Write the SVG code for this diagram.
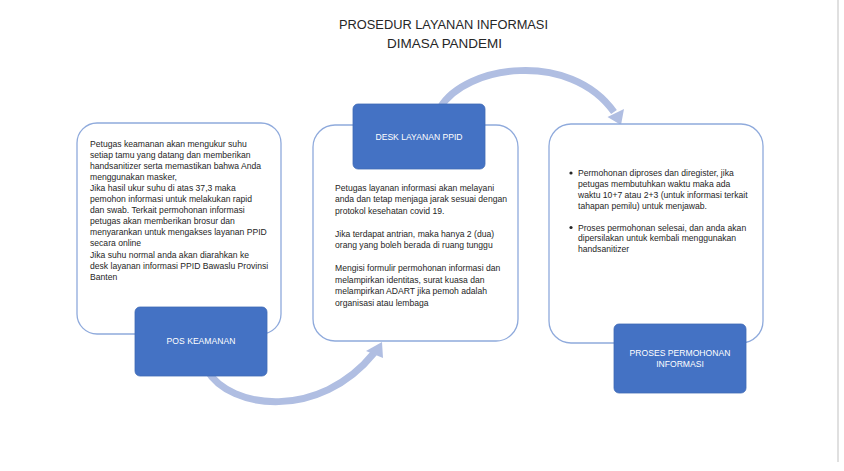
<svg xmlns="http://www.w3.org/2000/svg" width="844" height="471" viewBox="0 0 844 471">
<style>
.card{fill:#ffffff;stroke:#8FAADC;stroke-width:1.3}
.blue{fill:#4472C4;stroke:#3F69B5;stroke-width:0.8}
.body{font-family:"Liberation Sans",Arial,sans-serif;font-size:8.6px;fill:#262626}
.lbl{font-family:"Liberation Sans",Arial,sans-serif;font-size:8.6px;fill:#ffffff;text-anchor:middle}
.title{font-family:"Liberation Sans",Arial,sans-serif;font-size:13.4px;fill:#262626;text-anchor:middle}
.band{fill:none;stroke:#B0BEE2;stroke-width:7}
.head{fill:#B0BEE2}
</style>
<rect width="844" height="471" fill="#ffffff"/>
<line x1="838" y1="0" x2="838" y2="462" stroke="#D6D6D6" stroke-width="1.5"/>
<g id="title">
<text class="title" x="443.5" y="29" textLength="209" lengthAdjust="spacingAndGlyphs">PROSEDUR LAYANAN INFORMASI</text>
<text class="title" x="444.5" y="47.5" textLength="115" lengthAdjust="spacingAndGlyphs">DIMASA PANDEMI</text>
</g>
<g id="connectors">
<path class="band" d="M 440 108 C 465 65, 570 50, 614 112"/>
<polygon class="head" points="621,125 607.5,117 624,109"/>
<path class="band" d="M 207 370 C 230 410, 320 420, 374 353"/>
<polygon class="head" points="382,342 366,351 383,358"/>
</g>
<g id="pos-keamanan">
<rect class="card" x="77" y="123" width="204" height="211" rx="20"/>
<text class="body" x="90">
<tspan x="90" y="146.5">Petugas keamanan akan mengukur suhu</tspan>
<tspan x="90" y="157.6">setiap tamu yang datang dan memberikan</tspan>
<tspan x="90" y="168.7">handsanitizer serta memastikan bahwa Anda</tspan>
<tspan x="90" y="179.8">menggunakan masker,</tspan>
<tspan x="90" y="190.9">Jika hasil ukur suhu di atas 37,3 maka</tspan>
<tspan x="90" y="202">pemohon informasi untuk melakukan rapid</tspan>
<tspan x="90" y="213.1">dan swab. Terkait  permohonan informasi</tspan>
<tspan x="90" y="224.2">petugas akan memberikan brosur dan</tspan>
<tspan x="90" y="235.3">menyarankan untuk mengakses layanan PPID</tspan>
<tspan x="90" y="246.4">secara online</tspan>
<tspan x="90" y="257.5"> Jika suhu normal anda akan diarahkan ke</tspan>
<tspan x="90" y="268.6">desk layanan informasi PPID Bawaslu Provinsi</tspan>
<tspan x="90" y="279.7">Banten</tspan>
</text>
<rect class="blue" x="135" y="307" width="132" height="69" rx="5"/>
<text class="lbl" x="201" y="344">POS KEAMANAN</text>
</g>
<g id="desk-layanan-ppid">
<rect class="card" x="313" y="125" width="205" height="216" rx="22"/>
<rect class="blue" x="353" y="104" width="132" height="65" rx="5"/>
<text class="lbl" x="419" y="140">DESK LAYANAN PPID</text>
<text class="body">
<tspan x="335" y="190.5">Petugas layanan informasi akan melayani</tspan>
<tspan x="335" y="202">anda dan tetap menjaga jarak sesuai dengan</tspan>
<tspan x="335" y="213.5">protokol kesehatan covid 19.</tspan>
<tspan x="335" y="236.5">Jika terdapat antrian, maka hanya 2 (dua)</tspan>
<tspan x="335" y="248">orang yang boleh berada di ruang tunggu</tspan>
<tspan x="335" y="271">Mengisi formulir permohonan informasi dan</tspan>
<tspan x="335" y="282.5">melampirkan identitas, surat kuasa dan</tspan>
<tspan x="335" y="294">melampirkan ADART jika pemoh adalah</tspan>
<tspan x="335" y="305.5">organisasi atau lembaga</tspan>
</text>
</g>
<g id="proses-permohonan">
<rect class="card" x="549" y="124" width="214" height="219" rx="22"/>
<circle cx="571" cy="173" r="1.6" fill="#262626"/>
<circle cx="571" cy="227.5" r="1.6" fill="#262626"/>
<text class="body">
<tspan x="578" y="176">Permohonan diproses dan diregister, jika</tspan>
<tspan x="578" y="186.9">petugas membutuhkan waktu maka ada</tspan>
<tspan x="578" y="197.8">waktu 10+7 atau 2+3 (untuk informasi terkait</tspan>
<tspan x="578" y="208.7">tahapan pemilu) untuk menjawab.</tspan>
<tspan x="578" y="230.5">Proses permohonan selesai, dan anda akan</tspan>
<tspan x="578" y="241.4">dipersilakan untuk kembali menggunakan</tspan>
<tspan x="578" y="252.3">handsanitizer</tspan>
</text>
<rect class="blue" x="614" y="324" width="132" height="69" rx="5"/>
<text class="lbl" x="680" y="356">PROSES PERMOHONAN</text>
<text class="lbl" x="680" y="367">INFORMASI</text>
</g>
</svg>
